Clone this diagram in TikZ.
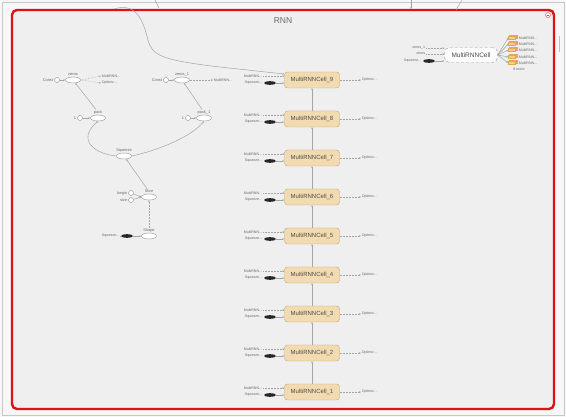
\documentclass[tikz,border=0pt]{standalone}
\usepackage{fontspec}
\setsansfont{Liberation Sans}
\usetikzlibrary{arrows.meta, positioning, shapes.geometric, shadows}

\definecolor{cellfill}{RGB}{242,219,176}
\definecolor{celldraw}{RGB}{196,166,116}
\definecolor{edgegray}{RGB}{165,165,165}
\definecolor{txtgray}{RGB}{105,105,105}
\definecolor{panel}{RGB}{239,239,239}
\definecolor{framered}{RGB}{222,18,18}
\definecolor{stkfill}{RGB}{246,205,140}
\definecolor{stkdraw}{RGB}{222,170,90}

\begin{document}
\begin{tikzpicture}[x=1pt, y=-1pt, >={Stealth[length=2pt,width=1.7pt]},
      cell/.style={draw=celldraw, fill=cellfill, rounded corners=3pt, minimum width=55pt,
                   minimum height=16pt, inner sep=0pt, text=black!70,
                   font=\sffamily\fontsize{6}{6}\selectfont},
      mcell/.style={draw=black!40, densely dashed, fill=black!1, rounded corners=5pt,
                    minimum width=53pt, minimum height=15pt, inner sep=0pt, text=black!70,
                    font=\sffamily\fontsize{6.5}{6.5}\selectfont},
      opn/.style={draw=black!45, fill=white, ellipse, minimum width=15pt,
                  minimum height=6pt, inner sep=0pt},
      cst/.style={draw=black!45, fill=white, circle, minimum size=5pt, inner sep=0pt},
      blob/.style={fill=black!85, ellipse, minimum width=12pt, minimum height=3.6pt, inner sep=0pt},
      stk/.style={draw=stkdraw, fill=stkfill, minimum width=7pt, minimum height=3pt, inner sep=0pt,
                  double copy shadow={shadow xshift=0.8pt, shadow yshift=0.8pt}},
      lbl/.style={font=\sffamily\fontsize{3.6}{4}\selectfont, text=txtgray, inner sep=0.6pt},
      opl/.style={font=\sffamily\fontsize{3.9}{4}\selectfont, text=txtgray, inner sep=0.6pt},
      edge/.style={edgegray, line width=0.5pt},
      ref/.style={edgegray, line width=0.5pt, densely dotted}]

    % ---- Canvas and frame ----
    \fill[black!3] (0,0) rectangle (566,417);
    \useasboundingbox (0,0) rectangle (566,417);
    \draw[black!22, line width=0.6pt] (2,2) rectangle (564,415);
    \draw[black!25, line width=1pt] (559,36) -- (559,52);
    \draw[framered, fill=panel, line width=2.4pt, rounded corners=5pt] (12,10) rectangle (554,409);
    \node[font=\sffamily\fontsize{8.5}{8.5}\selectfont, text=txtgray] (title) at (283,21) {RNN};
    \node[circle, draw=framered!70, fill=white, minimum size=5pt, inner sep=0pt, line width=0.5pt] (fold) at (548,15) {};
    \draw[black!60, line width=0.5pt] ([xshift=-1.3pt]fold.center) -- ([xshift=1.3pt]fold.center);

    % ---- Edges leaving through the top ----
    \coordinate (t1a) at (155,0);  \coordinate (t1b) at (159,8);
    \coordinate (t2a) at (411,0);  \coordinate (t2b) at (411,9);
    \coordinate (t3a) at (462,0);  \coordinate (t3b) at (456,10);
    \draw[edge] (t1a) -- (t1b);
    \draw[edge, ->] (t2a) -- (t2b);
    \draw[edge] (t3a) -- (t3b);

    % ---- Cell column ----
    \foreach \k/\y in {9/80, 8/119, 7/158, 6/197, 5/236, 4/275, 3/314, 2/353, 1/392} {
      \node[cell] (c\k) at (312,\y) {MultiRNNCell\_\k};
      \node[lbl, anchor=east] (mi\k) at (263,\y-4) {MultiRNN...};
      \node[blob] (bl\k) at (270,\y+3) {};
      \node[lbl, anchor=east] (si\k) at (263,\y+3) {Squeeze...};
      \node[lbl, anchor=west] (op\k) at (361,\y) {Optimiz...};
      \draw[ref, ->] (mi\k.east) -- (c\k.west |- mi\k.east);
      \draw[edge, ->] (bl\k.east) -- (c\k.west |- bl\k.east);
      \draw[ref, ->] (c\k.east) -- (op\k.west);
    }
    \foreach \a/\b in {1/2, 2/3, 3/4, 4/5, 5/6, 6/7, 7/8, 8/9}
      \draw[edge, ->] (c\a) -- (c\b);

    % ---- zeros / zeros_1 ----
    \node[opn] (zeros) at (73,80) {};
    \node[opl, above=0pt of zeros] (zerosl) {zeros};
    \node[cst] (cz0) at (57,80) {};
    \node[opl, left=0.5pt of cz0] (cz0l) {Const};
    \draw[edge, ->] (cz0) -- (zeros);
    \node[lbl, anchor=west] (zo1) at (101,76) {MultiRNN...};
    \node[lbl, anchor=west] (zo2) at (101,83) {Optimiz...};
    \draw[ref, ->] (zeros.east) -- (zo1.west);
    \draw[ref, ->] (zeros.east) -- (zo2.west);

    \node[opn] (zeros1) at (182,80) {};
    \node[opl, above=0pt of zeros1] (zeros1l) {zeros\_1};
    \node[cst] (cz1) at (166,80) {};
    \node[opl, left=0.5pt of cz1] (cz1l) {Const};
    \draw[edge, ->] (cz1) -- (zeros1);
    \node[lbl, anchor=west] (zo3) at (213,80) {MultiRNN...};
    \draw[ref, ->] (zeros1.east) -- (zo3.west);

    % long edge into the top cell
    \coordinate (lin) at (114,9);
    \draw[edge, ->] (lin) .. controls (136,2) and (143,20) .. (148,40)
                          .. controls (152,55) and (160,60) .. (220,67) -- (c9.west |- 0,74);

    % ---- pack / pack_1 ----
    \node[opn] (pack) at (98,118) {};
    \node[opl, above=0pt of pack] (packl) {pack};
    \node[cst] (one0) at (80,118) {};
    \node[opl, left=0.5pt of one0] (one0l) {1};
    \draw[edge, ->] (one0) -- (pack);
    \draw[edge, ->] (packl) -- (zeros);

    \node[opn] (pack1) at (204,118) {};
    \node[opl, above=0pt of pack1] (pack1l) {pack\_1};
    \node[cst] (one1) at (188,118) {};
    \node[opl, left=0.5pt of one1] (one1l) {1};
    \draw[edge, ->] (one1) -- (pack1);
    \draw[edge, ->] (pack1l) -- (zeros1);

    % ---- Squeeze ----
    \node[opn] (sqz) at (124,156) {};
    \node[opl, above=0pt of sqz] (sqzl) {Squeeze};
    \draw[edge, ->] (sqz.west) .. controls (95,154) and (76,140) .. (pack.south);
    \draw[edge, ->] (sqz.east) .. controls (160,150) and (192,136) .. (pack1.south);

    % ---- Slice ----
    \node[opn] (slice) at (149,197) {};
    \node[opl, above=0pt of slice] (slicel) {Slice};
    \node[cst] (cbeg) at (131,193) {};
    \node[opl, left=0.5pt of cbeg] (cbegl) {begin};
    \node[cst] (csize) at (131,200) {};
    \node[opl, left=0.5pt of csize] (csizel) {size};
    \draw[edge, ->] (cbeg) -- (slice.west);
    \draw[edge, ->] (csize) -- (slice.west);
    \draw[edge, ->] (slicel) -- (sqz);

    % ---- Shape ----
    \node[opn] (shape) at (149,236) {};
    \node[opl, above=0pt of shape] (shapel) {Shape};
    \draw[ref, ->] (shapel.north) -- (slice.south);
    \node[blob] (sbl) at (127,236) {};
    \node[lbl, anchor=east] (sbll) at (120,236) {Squeeze...};
    \draw[edge] (sbll.east) -- (sbl.west);
    \draw[edge, ->] (sbl.east) -- (shape.west);

    % ---- Detached MultiRNNCell ----
    \node[mcell] (mrc) at (471,55) {MultiRNNCell};
    \node[lbl, anchor=east] (tz1) at (426,48) {zeros\_1};
    \node[lbl, anchor=east] (tz0) at (426,54) {zeros};
    \node[blob] (tbl) at (429,61) {};
    \node[lbl, anchor=east] (tsq) at (422,61) {Squeeze...};
    \draw[ref, ->] (tz1.east) -- (mrc.west |- tz1.east);
    \draw[ref, ->] (tz0.east) -- (mrc.west |- tz0.east);
    \draw[edge, ->] (tbl.east) -- (mrc.west |- tbl.east);
    \foreach \i/\y in {1/38, 2/44, 3/50, 4/57, 5/63} {
      \node[stk] (st\i) at (512,\y) {};
      \node[lbl, anchor=west] (sl\i) at (518,\y) {MultiRNN...};
      \draw[edge, ->] (mrc.east) -- (st\i.west);
    }
    \node[lbl] (more) at (519,69) {8 more};

\end{tikzpicture}
\end{document}
